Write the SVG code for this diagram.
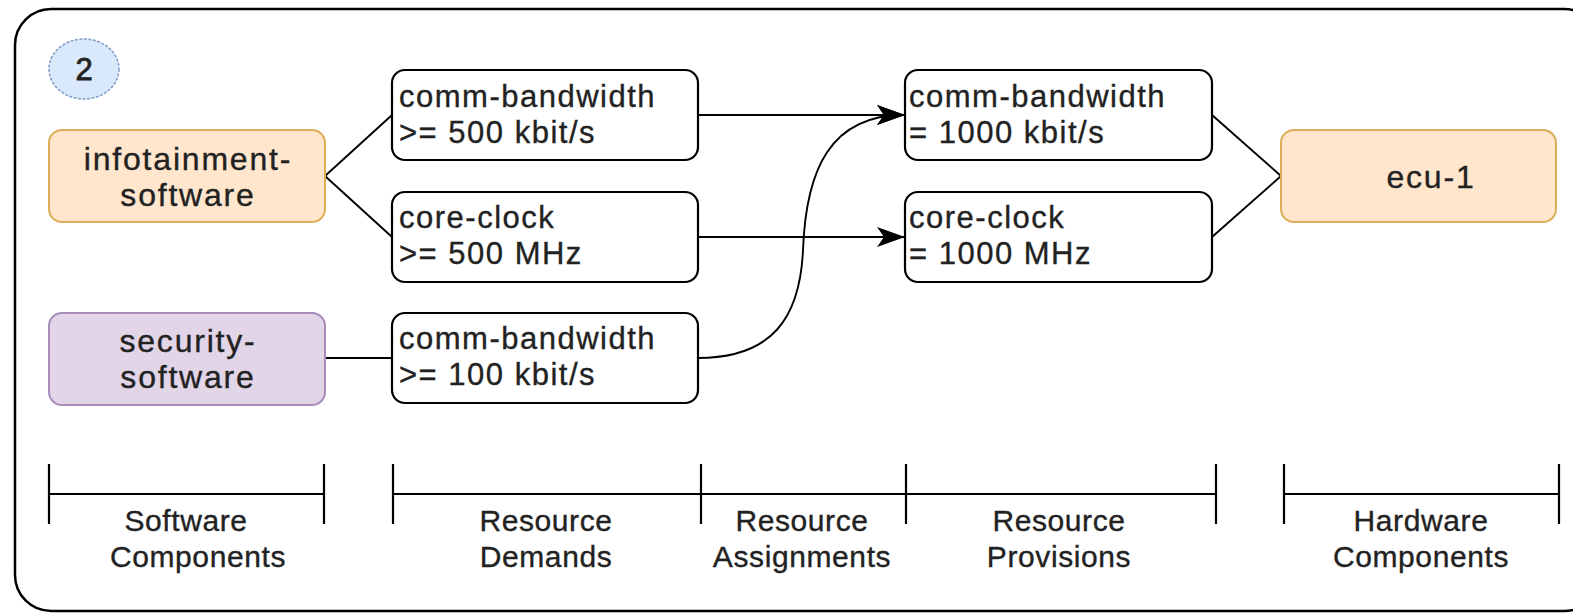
<svg xmlns="http://www.w3.org/2000/svg" width="1573" height="614" viewBox="0 0 1573 614">
  <style>
    text { font-family: "Liberation Sans", Arial, sans-serif; fill: #222; stroke: #222; stroke-width: 0.35px; }
    .nodeT { font-size: 32px; letter-spacing: 1.8px; text-anchor: middle; }
    .boxT { font-size: 31px; letter-spacing: 1.5px; }
    .lblT { font-size: 30px; letter-spacing: 0.6px; text-anchor: middle; }
    .box { fill: #ffffff; stroke: #000; stroke-width: 2.2; }
    .sw { fill: #ffe6cc; stroke: #dcae58; stroke-width: 2; }
    .sec { fill: #e1d5e7; stroke: #a88cbc; stroke-width: 2; }
    .conn { fill: none; stroke: #000; stroke-width: 1.9; }
    .bracket { fill: none; stroke: #000; stroke-width: 2.2; }
  </style>
  <defs>
    <marker id="arrow" markerUnits="userSpaceOnUse" markerWidth="28" markerHeight="20" refX="27" refY="10" orient="auto">
      <path d="M0,0 L28,10 L0,20 L7,10 Z" fill="#000"/>
    </marker>
  </defs>

  <rect id="frame" x="15" y="9" width="1585" height="602" rx="36" ry="36" fill="#fff" stroke="#000" stroke-width="2.5"/>

  <g id="step-badge">
    <ellipse cx="84" cy="69" rx="35" ry="30" fill="#dae8fc" stroke="#7f9cc8" stroke-width="1.5" stroke-dasharray="3 1.5"/>
    <text x="84" y="80" font-size="31" text-anchor="middle" style="stroke-width:0.8px">2</text>
  </g>

  <g id="connectors">
    <path class="conn" d="M325,176 L392,115"/>
    <path class="conn" d="M325,176 L392,237"/>
    <path class="conn" d="M325,358 L392,358"/>
    <path class="conn" d="M698,115 L904,115" marker-end="url(#arrow)"/>
    <path class="conn" d="M698,237 L904,237" marker-end="url(#arrow)"/>
    <path class="conn" d="M698,358 C772,358 800,318 803,250 C806,170 830,115 904,115" marker-end="url(#arrow)"/>
    <path class="conn" d="M1212,115 L1281,176"/>
    <path class="conn" d="M1212,237 L1281,176"/>
  </g>

  <g id="infotainment-software">
    <rect class="sw" x="49" y="130" width="276" height="92" rx="13"/>
    <text class="nodeT" x="188" y="170">infotainment-</text>
    <text class="nodeT" x="188" y="206">software</text>
  </g>

  <g id="security-software">
    <rect class="sec" x="49" y="313" width="276" height="92" rx="13"/>
    <text class="nodeT" x="188" y="352">security-</text>
    <text class="nodeT" x="188" y="388">software</text>
  </g>

  <g id="demand-bw-500">
    <rect class="box" x="392" y="70" width="306" height="90" rx="13"/>
    <text class="boxT" x="399" y="107">comm-bandwidth</text>
    <text class="boxT" x="399" y="143">&gt;= 500 kbit/s</text>
  </g>

  <g id="demand-clock-500">
    <rect class="box" x="392" y="192" width="306" height="90" rx="13"/>
    <text class="boxT" x="399" y="228">core-clock</text>
    <text class="boxT" x="399" y="264">&gt;= 500 MHz</text>
  </g>

  <g id="demand-bw-100">
    <rect class="box" x="392" y="313" width="306" height="90" rx="13"/>
    <text class="boxT" x="399" y="349">comm-bandwidth</text>
    <text class="boxT" x="399" y="385">&gt;= 100 kbit/s</text>
  </g>

  <g id="provision-bw-1000">
    <rect class="box" x="905" y="70" width="307" height="90" rx="13"/>
    <text class="boxT" x="909" y="107">comm-bandwidth</text>
    <text class="boxT" x="909" y="143">= 1000 kbit/s</text>
  </g>

  <g id="provision-clock-1000">
    <rect class="box" x="905" y="192" width="307" height="90" rx="13"/>
    <text class="boxT" x="909" y="228">core-clock</text>
    <text class="boxT" x="909" y="264">= 1000 MHz</text>
  </g>

  <g id="ecu-1">
    <rect class="sw" x="1281" y="130" width="275" height="92" rx="13"/>
    <text class="nodeT" x="1431" y="188">ecu-1</text>
  </g>

  <g id="legend">
    <path class="bracket" d="M49,494 H324 M49,464 V524 M324,464 V524"/>
    <path class="bracket" d="M393,494 H1216 M393,464 V524 M701,464 V524 M906,464 V524 M1216,464 V524"/>
    <path class="bracket" d="M1284,494 H1559 M1284,464 V524 M1559,464 V524"/>
    <text class="lblT" x="186" y="531">Software</text>
    <text class="lblT" x="198" y="567">Components</text>
    <text class="lblT" x="546" y="531">Resource</text>
    <text class="lblT" x="546" y="567">Demands</text>
    <text class="lblT" x="802" y="531">Resource</text>
    <text class="lblT" x="802" y="567">Assignments</text>
    <text class="lblT" x="1059" y="531">Resource</text>
    <text class="lblT" x="1059" y="567">Provisions</text>
    <text class="lblT" x="1421" y="531">Hardware</text>
    <text class="lblT" x="1421" y="567">Components</text>
  </g>
</svg>
